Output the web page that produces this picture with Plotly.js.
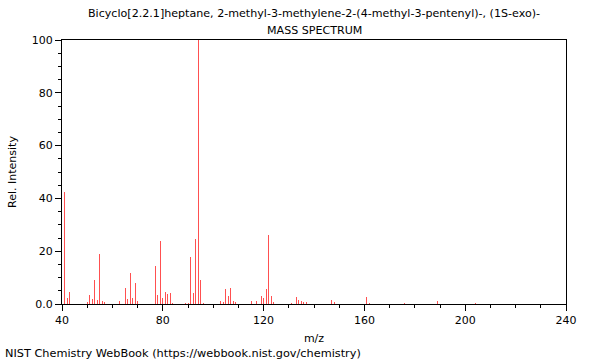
<!DOCTYPE html>
<html>
<head>
<meta charset="utf-8">
<script src="https://cdn.plot.ly/plotly-3.0.1.min.js"></script>
<style>html,body{margin:0;padding:0;background:#fff}#chart{width:600px;height:360px}</style>
</head>
<body>
<div id="chart"></div>
<script>
const mz = [41,42,43,50,51,52,53,54,55,56,57,63,65,66,67,68,69,70,77,78,79,80,81,82,83,84,89,90,91,92,93,94,95,96,103,104,105,106,107,108,109,115,117,119,120,121,122,123,124,131,133,134,135,136,137,147,148,161,162,176,189,204];
const intensity = [42.5,2.2,4.7,0.9,3.3,1.8,9.1,1.5,18.9,1.2,0.8,1.1,5.9,1.9,11.6,2.2,7.8,1.2,14.4,3.4,23.9,2.1,4.4,3.8,4.3,0.5,0.3,0.4,17.8,4.0,24.6,100,9.1,0.5,1.1,0.6,5.5,3.0,5.9,1.1,0.8,1.0,1.1,3.0,2.3,5.5,26.1,3.2,0.8,0.3,2.6,1.5,1.1,0.7,0.7,1.5,0.7,2.5,0.5,0.3,1.1,0.5];
const yTickVals = [0,20,40,60,80,100];
const yTickText = ['0.0','20','40','60','80','100'];
const titleLine1 = 'Bicyclo[2.2.1]heptane, 2-methyl-3-methylene-2-(4-methyl-3-pentenyl)-, (1S-exo)-';
const titleLine2 = 'MASS SPECTRUM';
const footer = 'NIST Chemistry WebBook (https://webbook.nist.gov/chemistry)';

const font = {family: 'DejaVu Sans', size: 11, color: '#000'};
const trace = {
  type: 'bar', x: mz, y: intensity, width: 0.4,
  marker: {color: '#ff5050', line: {width: 0}},
  hoverinfo: 'x+y'
};
const layout = {
  width: 600, height: 360,
  margin: {l: 62, r: 34, t: 40, b: 56},
  paper_bgcolor: '#fff', plot_bgcolor: '#fff',
  font: font,
  showlegend: false,
  bargap: 0,
  xaxis: {
    range: [40, 240], tickvals: [40,80,120,160,200,240],
    ticks: 'outside', ticklen: 6, tickwidth: 1, tickcolor: '#000',
    minor: {dtick: 10, tick0: 40, ticks: 'outside', ticklen: 3, tickcolor: '#000', showgrid: false},
    showline: true, linecolor: '#000', linewidth: 1, mirror: true,
    showgrid: false, zeroline: false,
    tickfont: {family: 'DejaVu Sans', size: 11},
    title: {text: 'm/z', font: {family: 'DejaVu Sans', size: 11}, standoff: 8}
  },
  yaxis: {
    range: [0, 100], tickvals: yTickVals, ticktext: yTickText,
    ticks: 'outside', ticklen: 6, tickwidth: 1, tickcolor: '#000',
    minor: {dtick: 5, tick0: 0, ticks: 'outside', ticklen: 3, tickcolor: '#000', showgrid: false},
    showline: true, linecolor: '#000', linewidth: 1, mirror: true,
    showgrid: false, zeroline: false,
    tickfont: {family: 'DejaVu Sans', size: 11},
    title: {text: 'Rel. Intensity', font: {family: 'DejaVu Sans', size: 11}, standoff: 12}
  },
  annotations: [
    {text: titleLine1, xref: 'paper', yref: 'paper', x: 0.5, y: 1, xanchor: 'center', yanchor: 'middle', yshift: 27, showarrow: false, font: {family: 'DejaVu Sans', size: 11.1}},
    {text: titleLine2, xref: 'paper', yref: 'paper', x: 0.5, y: 1, xanchor: 'center', yanchor: 'middle', yshift: 10, showarrow: false, font: {family: 'DejaVu Sans', size: 11.1}},
    {text: footer, xref: 'paper', yref: 'paper', x: (3-62)/504, y: 0, xanchor: 'left', yanchor: 'middle', yshift: -49, showarrow: false, font: {family: 'DejaVu Sans', size: 11.3}}
  ]
};
Plotly.newPlot('chart', [trace], layout, {displayModeBar: false, staticPlot: true});
</script>
</body>
</html>
